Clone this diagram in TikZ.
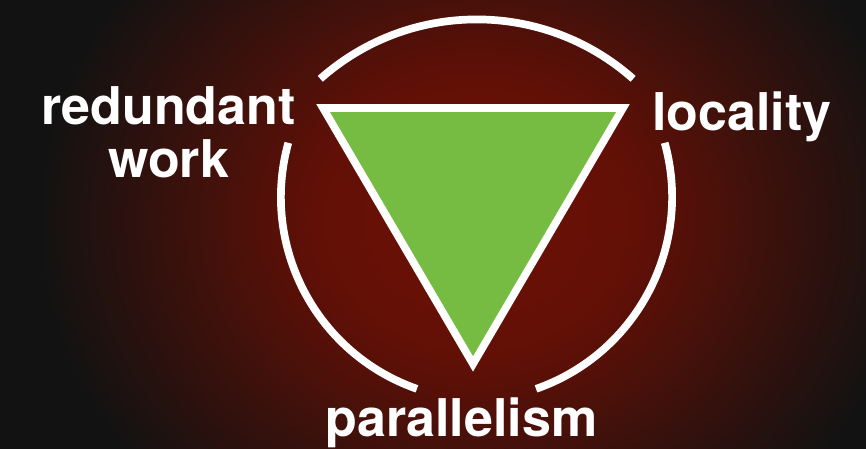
\documentclass[tikz,border=0pt]{standalone}
\usepackage{fontspec}
\setmainfont{TeX Gyre Heros}
\usepackage{tikz}
\definecolor{bgdark}{HTML}{121212}
\definecolor{glowred}{RGB}{110,16,5}
\definecolor{glowmid}{RGB}{98,16,6}
\definecolor{leafgreen}{RGB}{118,188,66}
\pgfdeclareradialshading{slideglow}{\pgfpoint{0bp}{0bp}}{color(0bp)=(glowred); color(9bp)=(glowmid); color(25bp)=(bgdark); color(50bp)=(bgdark)}

\begin{document}
\begin{tikzpicture}[x=1pt, y=1pt,
  ring/.style={white, line width=7.7pt},
  tag/.style={white, font=\fontsize{52}{53}\selectfont\bfseries, inner sep=0pt, anchor=base, align=center}]

% ---- Background: dark slide with red glow ----
\useasboundingbox (0,0) rectangle (866,449);
\fill[bgdark] (0,0) rectangle (866,449);
\begin{scope}
  \clip (0,0) rectangle (866,449);
  \shade[shading=slideglow] (476,229) ellipse [x radius=440, y radius=383];
\end{scope}

% ---- Triangle (pointing down) ----
\coordinate (tl) at (323,341);
\coordinate (tr) at (623,341);
\coordinate (tip) at (473,85);
\filldraw[fill=leafgreen, draw=white, line width=7.7pt, line join=miter] (tl) -- (tr) -- (tip) -- cycle;

% ---- Broken ring: three arcs ----
% top arc
\draw[ring] (476.7,194) ++(48.4:235.6) arc[start angle=48.4, end angle=131.6, radius=235.6];
% left arc
\draw[ring] (484.1,251.9) ++(164.5:203.2) arc[start angle=164.5, end angle=250.7, radius=203.2];
% right arc
\draw[ring] (468.9,251.9) ++(-70.7:203.2) arc[start angle=-70.7, end angle=15.5, radius=203.2];

% ---- Labels ----
\node[tag] (redundant) at (168.5,271) {redundant\\work};
\node[tag] (locality) at (741.7,318.3) {locality};
\node[tag] (parallelism) at (461.4,12.3) {parallelism};

\end{tikzpicture}
\end{document}
